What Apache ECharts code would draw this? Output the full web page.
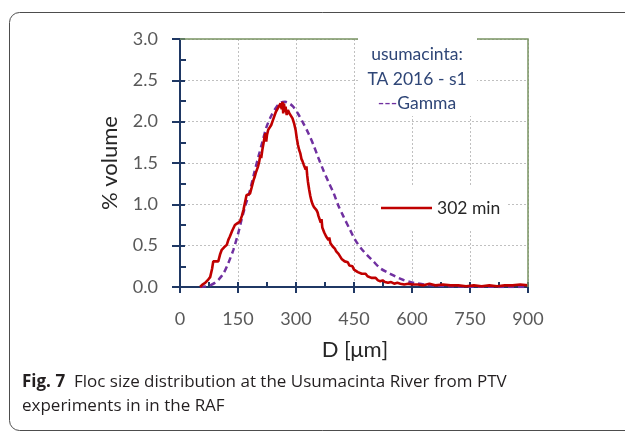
<!DOCTYPE html>
<html>
<head>
<meta charset="utf-8">
<script src="https://cdn.jsdelivr.net/npm/echarts@6/dist/echarts.min.js"></script>
<style>
  html, body { margin: 0; padding: 0; background: #ffffff; }
  #chart { width: 625px; height: 432px; }
</style>
</head>
<body>
<div id="chart"></div>
<script>
// Measured floc size distribution, 302 min (D in µm, % volume)
const measuredD = [52, 58, 65, 73, 78, 83, 86, 92, 99, 104, 108, 114, 121, 125, 129, 135, 142, 148, 155, 160,
  164, 168, 172, 177, 181, 185, 190, 193, 196, 199, 202, 205, 208, 210, 213, 216, 219, 221, 223, 225,
  228, 232, 236, 239, 242, 245, 248, 251, 254, 257, 260, 263, 265, 267, 269, 271, 273, 276, 279, 283,
  287, 291, 295, 299, 302, 305, 308, 311, 314, 317, 320, 322, 325, 327, 329, 331, 334, 337, 340, 343,
  346, 350, 353, 356, 358, 361, 364, 366, 368, 371, 373, 376, 378, 381, 384, 386, 389, 392, 395, 398,
  401, 404, 407, 410, 414, 418, 422, 426, 430, 434, 438, 442, 446, 450, 455, 460, 465, 470, 475, 480,
  485, 490, 495, 500, 506, 512, 518, 524, 530, 538, 546, 554, 562, 570, 580, 590, 600, 615, 630, 645,
  660, 680, 700, 720, 740, 760, 780, 800, 820, 840, 860, 880, 900];
const measuredV = [0.00, 0.03, 0.05, 0.09, 0.12, 0.22, 0.31, 0.31, 0.31, 0.40, 0.45, 0.48, 0.51, 0.57, 0.61, 0.68, 0.75, 0.77, 0.79, 0.86,
  0.93, 1.02, 1.11, 1.11, 1.13, 1.20, 1.29, 1.33, 1.38, 1.36, 1.46, 1.52, 1.60, 1.56, 1.66, 1.74, 1.82, 1.86, 1.76, 1.84,
  1.90, 1.92, 1.96, 2.00, 2.04, 2.08, 2.12, 2.14, 2.17, 2.19, 2.22, 2.15, 2.24, 2.10, 2.22, 2.12, 2.18, 2.08, 2.14, 2.10,
  2.07, 2.04, 1.98, 1.90, 1.80, 1.72, 1.66, 1.62, 1.55, 1.52, 1.48, 1.50, 1.42, 1.46, 1.35, 1.27, 1.18, 1.10, 1.04, 1.00,
  0.97, 0.96, 0.93, 0.90, 0.86, 0.84, 0.78, 0.82, 0.72, 0.70, 0.66, 0.68, 0.61, 0.62, 0.57, 0.60, 0.53, 0.55, 0.49, 0.51,
  0.46, 0.43, 0.45, 0.40, 0.38, 0.34, 0.36, 0.31, 0.29, 0.30, 0.26, 0.24, 0.25, 0.21, 0.20, 0.18, 0.19, 0.16, 0.15, 0.16,
  0.13, 0.14, 0.11, 0.10, 0.11, 0.08, 0.07, 0.08, 0.06, 0.05, 0.06, 0.04, 0.05, 0.04, 0.03, 0.04, 0.03, 0.03, 0.02, 0.04,
  0.02, 0.03, 0.02, 0.02, 0.01, 0.02, 0.01, 0.02, 0.01, 0.02, 0.02, 0.03, 0.02];

// Fitted gamma distribution
const gammaD = [52, 65, 78, 90, 100, 112, 125, 138, 150, 159, 170, 181, 192, 203, 214, 224, 237, 250, 261, 272,
  283, 293, 306, 319, 332, 345, 358, 371, 384, 397, 410, 422, 440, 453, 468, 483, 500, 517, 535, 552,
  565, 578, 595, 612, 640, 664, 700, 750, 800, 850, 900];
const gammaV = [0.00, 0.005, 0.02, 0.05, 0.09, 0.16, 0.29, 0.45, 0.64, 0.81, 1.00, 1.17, 1.38, 1.58, 1.77, 1.94, 2.08, 2.18, 2.23, 2.24,
  2.22, 2.18, 2.09, 1.98, 1.86, 1.72, 1.56, 1.41, 1.27, 1.14, 0.98, 0.86, 0.69, 0.57, 0.47, 0.39, 0.31, 0.23, 0.18, 0.14,
  0.11, 0.085, 0.06, 0.045, 0.025, 0.015, 0.008, 0.004, 0.002, 0.001, 0.0];

const xTicks = { min: 0, max: 900, step: 150 };
const yTicks = { min: 0, max: 3, step: 0.5 };

const axisBlue = '#1F3864';
const labelGrey = '#595959';
const gridGrey = '#C0C0C0';
const frameGreen = '#7A9463';
const chartFont = 'Lato';

const measured = measuredD.map((d, i) => [d, measuredV[i]]);
const gamma = gammaD.map((d, i) => [d, gammaV[i]]);

const G = { left: 180, top: 39, right: 528, bottom: 287 };

function baseX(extra) {
  return Object.assign({
    type: 'value', min: xTicks.min, max: xTicks.max, interval: xTicks.step,
    position: 'bottom', gridIndex: 0,
    axisLine: { show: false }, axisLabel: { show: false },
    splitLine: { show: false }, axisTick: { show: false }
  }, extra);
}
function baseY(extra) {
  return Object.assign({
    type: 'value', min: yTicks.min, max: yTicks.max, interval: yTicks.step,
    position: 'left', gridIndex: 0,
    axisLine: { show: false }, axisLabel: { show: false },
    splitLine: { show: false }, axisTick: { show: false }
  }, extra);
}

const chart = echarts.init(document.getElementById('chart'), null, { renderer: 'canvas' });
chart.setOption({
  animation: false,
  backgroundColor: '#ffffff',
  textStyle: { fontFamily: chartFont },
  grid: { left: G.left, top: G.top, width: G.right - G.left, height: G.bottom - G.top },
  xAxis: [
    baseX({
      axisLine: { show: true, lineStyle: { color: axisBlue, width: 2 } },
      axisTick: { show: true, inside: true, length: 5, lineStyle: { color: axisBlue, width: 2 } },
      minorTick: { show: true, splitNumber: 2, length: 5, lineStyle: { color: axisBlue, width: 2 } },
      axisLabel: { show: true, color: labelGrey, fontSize: 18, margin: 23, fontFamily: chartFont },
      splitLine: { show: true, lineStyle: { color: gridGrey, type: [2, 2], width: 1 } }
    }),
    baseX({
      axisTick: { show: true, inside: false, length: 6, lineStyle: { color: axisBlue, width: 2 } }
    })
  ],
  yAxis: [
    baseY({
      axisLine: { show: true, lineStyle: { color: axisBlue, width: 2 } },
      axisTick: { show: true, inside: true, length: 5, lineStyle: { color: axisBlue, width: 2 } },
      minorTick: { show: true, splitNumber: 2, length: 6, lineStyle: { color: axisBlue, width: 2 } },
      axisLabel: { show: true, color: labelGrey, fontSize: 18, margin: 22, fontFamily: chartFont,
        formatter: v => v.toFixed(1) },
      splitLine: { show: true, lineStyle: { color: gridGrey, type: [2, 2], width: 1 } }
    }),
    baseY({
      axisTick: { show: true, inside: false, length: 8, lineStyle: { color: axisBlue, width: 2 } }
    })
  ],
  series: [
    {
      name: 'Gamma', type: 'line', data: gamma, showSymbol: false, smooth: 0.3,
      lineStyle: { color: '#7030A0', width: 2.5, type: [6, 4] }, z: 3
    },
    {
      name: '302 min', type: 'line', data: measured, showSymbol: false,
      lineStyle: { color: '#C00000', width: 2.6 }, z: 4
    }
  ],
  graphic: [
    // outer rounded figure frame
    { type: 'rect', shape: { x: 9.5, y: 12.5, width: 640, height: 418, r: 10 },
      style: { fill: 'none', stroke: '#4d4d4d', lineWidth: 1 }, z: 0 },
    // top and right plot border
    { type: 'polyline', shape: { points: [[G.left, G.top], [G.right, G.top], [G.right, G.bottom]] },
      style: { stroke: frameGreen, lineWidth: 1.5, fill: 'none' }, z: 5 },
    // text box of the title
    { type: 'rect', shape: { x: 358, y: 30, width: 119, height: 86 },
      style: { fill: '#ffffff' }, z: 6 },
    { type: 'text', x: 417, y: 54, z: 7,
      style: { text: 'usumacinta:', font: '17.5px ' + chartFont, fill: '#2F4677', align: 'center', verticalAlign: 'middle' } },
    { type: 'text', x: 417, y: 79, z: 7,
      style: { text: 'TA 2016 - s1', font: '17.5px ' + chartFont, fill: '#2F4677', align: 'center', verticalAlign: 'middle' } },
    { type: 'text', x: 417, y: 103, z: 7,
      style: { text: '{d|---}{g|Gamma}', align: 'center', verticalAlign: 'middle',
        rich: { d: { font: '17.5px ' + chartFont, fill: '#7030A0' }, g: { font: '17.5px ' + chartFont, fill: '#2F4677' } } } },
    // series legend
    { type: 'rect', shape: { x: 379, y: 186, width: 128, height: 44 }, style: { fill: '#ffffff' }, z: 6 },
    { type: 'line', shape: { x1: 381, y1: 208, x2: 432, y2: 208 }, style: { stroke: '#C00000', lineWidth: 2.5 }, z: 7 },
    { type: 'text', x: 437, y: 208, z: 7,
      style: { text: '302 min', font: '17.5px ' + chartFont, fill: '#262626', verticalAlign: 'middle' } },
    // axis titles
    { type: 'text', x: 355, y: 350, z: 7,
      style: { text: 'D [μm]', font: '22px ' + chartFont, fill: '#262626', align: 'center', verticalAlign: 'middle' } },
    { type: 'text', x: 110, y: 163, rotation: Math.PI / 2, z: 7,
      style: { text: '% volume', font: '22px ' + chartFont, fill: '#262626', align: 'center', verticalAlign: 'middle' } },
    // caption
    { type: 'text', x: 22, y: 382, z: 7,
      style: { text: '{b|Fig. 7}  Floc size distribution at the Usumacinta River from PTV', verticalAlign: 'middle',
        font: '17px "Open Sans"', fill: '#231F20',
        rich: { b: { font: 'bold 17px "Open Sans"', fill: '#231F20' } } } },
    { type: 'text', x: 22, y: 406, z: 7,
      style: { text: 'experiments in in the RAF', verticalAlign: 'middle', font: '17px "Open Sans"', fill: '#231F20' } }
  ]
});
</script>
</body>
</html>
